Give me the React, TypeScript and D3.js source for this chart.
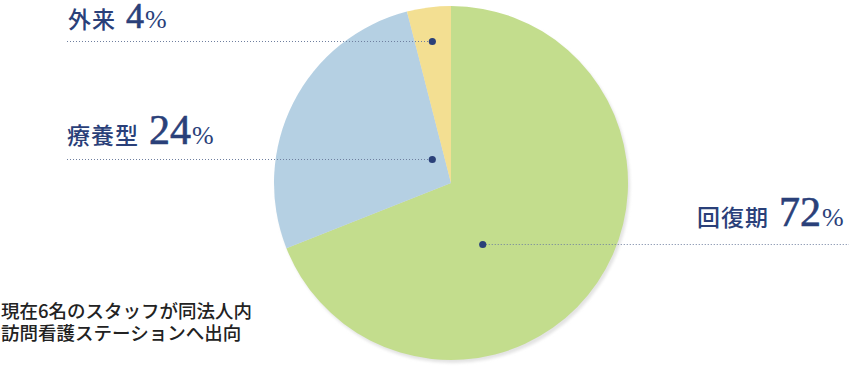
import React from "react";
import * as d3 from "d3";

// Data
const categories = ["回復期", "療養型", "外来"];
const sliceValues = [69, 27, 4]; // as drawn in the picture
const labelPercents = ["72", "24", "4"]; // as printed in labels
const colors = ["#c3dd8d", "#b5d0e3", "#f3df92"];
const noteLines = ["現在6名のスタッフが同法人内", "訪問看護ステーションへ出向"];

const W = 849;
const H = 366;
const cx = 451;
const cy = 183;
const R = 177;

// layout: dot polar positions (deg clockwise from top, radius) and label anchors
const dotPolar = [
  { a: 152.4, r: 68.5 },
  { a: 322, r: 30.4 },
  { a: 352.5, r: 143 },
];
const labelPos = [
  { x: 697, y: 226, numSize: 42, lineFrom: "dot", lineTo: 849 },
  { x: 67, y: 144, numSize: 42, lineFrom: 67, lineTo: "dot" },
  { x: 68, y: 28, numSize: 36, lineFrom: 67, lineTo: "dot" },
];

const navy = "#2a4079";

export default function App() {
  const pie = d3.pie<number>().sort(null).value((d) => d);
  const arcs = pie(sliceValues);
  const arc = d3.arc<d3.PieArcDatum<number>>().innerRadius(0).outerRadius(R);

  const dots = dotPolar.map((p) => {
    const rad = (p.a * Math.PI) / 180;
    return { x: cx + p.r * Math.sin(rad), y: cy - p.r * Math.cos(rad) };
  });

  return (
    <svg
      width={W}
      height={H}
      style={{ position: "absolute", left: 0, top: 0, display: "block" }}
    >
      <defs>
        <filter id="blur" x="-10%" y="-10%" width="120%" height="120%">
          <feGaussianBlur stdDeviation="1.5" />
        </filter>
      </defs>
      <circle cx={cx + 2} cy={cy + 3} r={R} fill="#e3e3e3" filter="url(#blur)" />
      <g transform={`translate(${cx},${cy})`}>
        {arcs.map((a, i) => (
          <path key={i} d={arc(a) || ""} fill={colors[i]} />
        ))}
      </g>
      {categories.map((c, i) => {
        const lp = labelPos[i];
        const d = dots[i];
        const x1 = lp.lineFrom === "dot" ? d.x : (lp.lineFrom as number);
        const x2 = lp.lineTo === "dot" ? d.x : (lp.lineTo as number);
        const ly = Math.round(d.y) + 0.5;
        return (
          <g key={c}>
            <line
              x1={x1}
              x2={x2}
              y1={ly}
              y2={ly}
              stroke="#6f7f9f"
              strokeWidth={1}
              strokeDasharray="1,2"
            />
            <circle cx={d.x} cy={ly} r={3.6} fill={navy} />
            <text
              x={lp.x}
              y={lp.y}
              fill={navy}
              style={{ fontFamily: "'Noto Sans CJK JP'", fontSize: 23, fontWeight: 500 }}
              letterSpacing={1}
            >
              {c}
              <tspan
                dx={10}
                stroke={navy}
                strokeWidth={0.6}
                style={{ fontFamily: "'Liberation Serif', serif", fontSize: lp.numSize }}
                letterSpacing={0}
              >
                {labelPercents[i]}
              </tspan>
              <tspan
                dx={1}
                style={{ fontFamily: "'Liberation Serif', serif", fontSize: 26 }}
                letterSpacing={0}
              >
                %
              </tspan>
            </text>
          </g>
        );
      })}
      {noteLines.map((t, i) => (
        <text
          key={i}
          x={1}
          y={318 + i * 22}
          fill="#222"
          style={{ fontFamily: "'Noto Sans CJK JP'", fontSize: 18.5, fontWeight: 500 }}
        >
          {t}
        </text>
      ))}
    </svg>
  );
}
